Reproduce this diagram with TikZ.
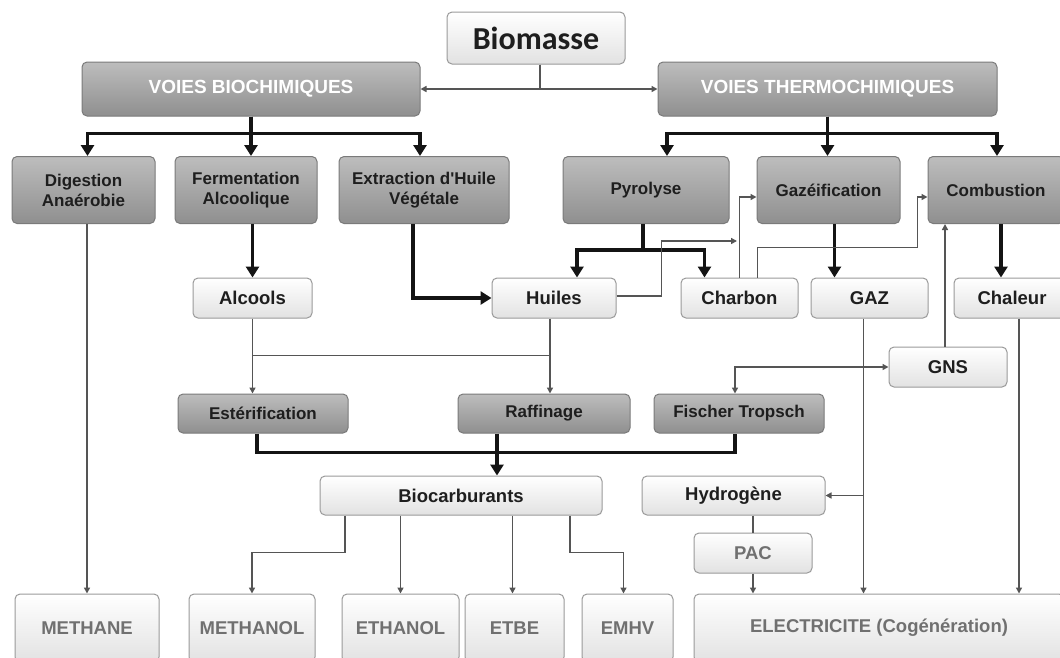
\documentclass[tikz,border=0pt]{standalone}
\usepackage{fontspec}
\setmainfont{Liberation Sans}
\newfontfamily\titlefont{Carlito}
\usepackage{tikz}
\usetikzlibrary{arrows.meta, positioning, calc}

\definecolor{graytop}{HTML}{BDBDBD}
\definecolor{graybot}{HTML}{8F8F8F}
\definecolor{edgegray}{HTML}{7A7A7A}
\definecolor{lightbot}{HTML}{E2E2E2}
\definecolor{lightedge}{HTML}{9A9A9A}
\definecolor{darktext}{HTML}{1E1E1E}
\definecolor{outtext}{HTML}{707070}
\definecolor{linegray}{HTML}{555555}

\tikzset{
    procbox/.style={draw=edgegray, line width=1pt, rounded corners=5pt,
        top color=graytop, bottom color=graybot, text=darktext, align=center,
        inner sep=0pt, font=\bfseries\fontsize{17}{20}\selectfont},
    voiebox/.style={procbox, text=white, font=\bfseries\fontsize{19}{22}\selectfont},
    prodbox/.style={draw=lightedge, line width=1pt, rounded corners=5pt,
        top color=white, bottom color=lightbot, text=darktext,
        inner sep=0pt, font=\bfseries\fontsize{18.5}{21}\selectfont},
    outbox/.style={prodbox, text=outtext},
    thick arrow/.style={line width=3.5pt, draw=black!92, -{Triangle[length=11pt,width=13pt]}},
    thick line/.style={line width=3.5pt, draw=black!92},
    thin arrow/.style={line width=1.6pt, draw=linegray, -{Triangle[length=6pt,width=6pt]}},
    thin both/.style={line width=1.6pt, draw=linegray, {Triangle[length=6pt,width=6pt]}-{Triangle[length=6pt,width=6pt]}},
    thin line/.style={line width=1.6pt, draw=linegray},
    mid line/.style={line width=2.5pt, draw=linegray}
}

\begin{document}
\begin{tikzpicture}[x=1pt, y=-1pt]
    \clip (0,0) rectangle (1060,657);
    \fill[white] (0,0) rectangle (1060,657);

    % top
    \node[prodbox, minimum width=178pt, minimum height=52pt,
        font=\titlefont\bfseries\fontsize{32}{36}\selectfont] (bio) at (536,38) {Biomasse};
    \node[voiebox, minimum width=338pt, minimum height=54pt] (biochim) at (251,89) {VOIES BIOCHIMIQUES};
    \node[voiebox, minimum width=339pt, minimum height=54pt] (thermo) at (827.5,89) {VOIES THERMOCHIMIQUES};

    % procedes
    \node[procbox, minimum width=143pt, minimum height=67pt] (dig) at (83.5,190) {Digestion\\Anaérobie};
    \node[procbox, minimum width=142pt, minimum height=67pt] (ferm) at (246,190) {Fermentation\\Alcoolique};
    \node[procbox, minimum width=170pt, minimum height=67pt] (extr) at (424,190) {Extraction d\textquotesingle Huile\\Végétale};
    \node[procbox, minimum width=166pt, minimum height=67pt] (pyro) at (646,190) {Pyrolyse};
    \node[procbox, minimum width=143pt, minimum height=67pt] (gazei) at (828.5,190) {Gazéification};
    \node[procbox, minimum width=136pt, minimum height=67pt] (comb) at (996,190) {Combustion};

    % produits intermediaires
    \node[prodbox, minimum width=119pt, minimum height=40pt] (alc) at (252.5,298) {Alcools};
    \node[prodbox, minimum width=124pt, minimum height=40pt] (huil) at (554,298) {Huiles};
    \node[prodbox, minimum width=117pt, minimum height=40pt] (charb) at (739.5,298) {Charbon};
    \node[prodbox, minimum width=117pt, minimum height=40pt] (gaz) at (869.5,298) {GAZ};
    \node[prodbox, minimum width=116pt, minimum height=40pt] (chal) at (1012,298) {Chaleur};
    \node[prodbox, minimum width=118pt, minimum height=40pt] (gns) at (948,367) {GNS};

    \node[procbox, minimum width=170pt, minimum height=39pt] (ester) at (263,413.5) {Estérification};
    \node[procbox, minimum width=172pt, minimum height=39pt] (raff) at (544,413.5) {Raffinage};
    \node[procbox, minimum width=170pt, minimum height=39pt] (ft) at (739,413.5) {Fischer Tropsch};

    \node[prodbox, minimum width=282pt, minimum height=39pt] (biocarb) at (461,495.5) {Biocarburants};
    \node[prodbox, minimum width=183pt, minimum height=39pt] (hydro) at (733.5,495.5) {Hydrogène};
    \node[outbox, minimum width=118pt, minimum height=40pt] (pac) at (753,553) {PAC};

    % sorties
    \node[outbox, minimum width=144pt, minimum height=68pt] (methane) at (87,628) {METHANE};
    \node[outbox, minimum width=126pt, minimum height=68pt] (methanol) at (252,628) {METHANOL};
    \node[outbox, minimum width=117pt, minimum height=68pt] (ethanol) at (400.5,628) {ETHANOL};
    \node[outbox, minimum width=99pt, minimum height=68pt] (etbe) at (514.5,628) {ETBE};
    \node[outbox, minimum width=91pt, minimum height=68pt] (emhv) at (627.5,628) {EMHV};
    \node[outbox, minimum width=370pt, minimum height=68pt] (elec) at (879,628) {ELECTRICITE (Cogénération)};

    \coordinate (hg) at (737,241);

    % liaisons
    \draw[thin arrow] ([xshift=4pt]bio.south) |- (biochim.east);
    \draw[thin arrow] ([xshift=4pt]bio.south) |- (thermo.west);

    \draw[thick arrow] (biochim.south) -- ++(0,17) -| ([xshift=4pt]dig.north);
    \draw[thick arrow] (biochim.south) -- ++(0,17) -| ([xshift=-4pt]extr.north);
    \draw[thick arrow] (biochim.south) -- (biochim.south |- ferm.north);
    \draw[thick arrow] (thermo.south) -- ++(0,17) -| ([xshift=21pt]pyro.north);
    \draw[thick arrow] (thermo.south) -- ++(0,17) -| ([xshift=1pt]comb.north);
    \draw[thick arrow] (thermo.south) -- (thermo.south |- gazei.north);

    \draw[thin arrow] (methane.north |- dig.south) -- (methane.north);
    \draw[thick arrow] (alc.north |- ferm.south) -- (alc.north);
    \draw[thick arrow] ([xshift=-11pt]extr.south) |- (huil.west);
    \draw[thick arrow] ([xshift=-3pt]pyro.south) -- ++(0,26) -| ([xshift=23pt]huil.north);
    \draw[thick arrow] ([xshift=-3pt]pyro.south) -- ++(0,26) -| ([xshift=-35pt]charb.north);
    \draw[thick arrow] ([xshift=6pt]gazei.south) -- ([xshift=6pt]gazei.south |- gaz.north);
    \draw[thick arrow] ([xshift=5pt]comb.south) -- ([xshift=5pt]comb.south |- chal.north);

    \draw[thin arrow] ([yshift=2pt]huil.east) -- ++(45,0) |- (hg);
    \draw[thin arrow] (charb.north) |- ([yshift=-7pt]gazei.west);
    \draw[thin arrow] ([xshift=18pt]charb.north) -- ++(0,-30) -- ++(160,0) |- ([yshift=-7pt]comb.west);
    \draw[thin arrow] ([xshift=-3pt]gns.north) -- ([xshift=-3pt]gns.north |- comb.south);
    \draw[thin both] ([xshift=-4pt]ft.north) |- (gns.west);

    \draw[thin arrow] (alc.south) -- (alc.south |- ester.north);
    \draw[thin arrow] ([xshift=-4pt]huil.south) -- ([xshift=-4pt]huil.south |- raff.north);
    \draw[thin line] ([yshift=-37pt]alc.south) -- ([xshift=-4pt, yshift=-37pt]huil.south);

    \draw[thick line] ([xshift=-6pt]ester.south) -- ++(0,19) -| ([xshift=-4pt]ft.south);
    \draw[thick arrow] ([xshift=-47pt]raff.south) -- ([xshift=-47pt]raff.south |- biocarb.north);

    \draw[thin arrow] ([xshift=-6pt]gaz.south) -- ([xshift=-6pt]gaz.south |- elec.north);
    \draw[thin arrow] ([xshift=-6pt]gaz.south |- hydro.east) -- (hydro.east);
    \draw[thin arrow] ([xshift=7pt]chal.south) -- ([xshift=7pt]chal.south |- elec.north);
    \draw[mid line] (pac.north |- hydro.south) -- (pac.north);
    \draw[thin arrow] (pac.south) -- (pac.south |- elec.north);

    \draw[thin arrow] ([xshift=-116pt]biocarb.south) -- ++(0,37) -| (methanol.north);
    \draw[thin arrow] (ethanol.north |- biocarb.south) -- (ethanol.north);
    \draw[thin arrow] ([xshift=-2pt]etbe.north |- biocarb.south) -- ([xshift=-2pt]etbe.north);
    \draw[thin arrow] ([xshift=109pt]biocarb.south) -- ++(0,37) -| ([xshift=-4pt]emhv.north);
\end{tikzpicture}
\end{document}
